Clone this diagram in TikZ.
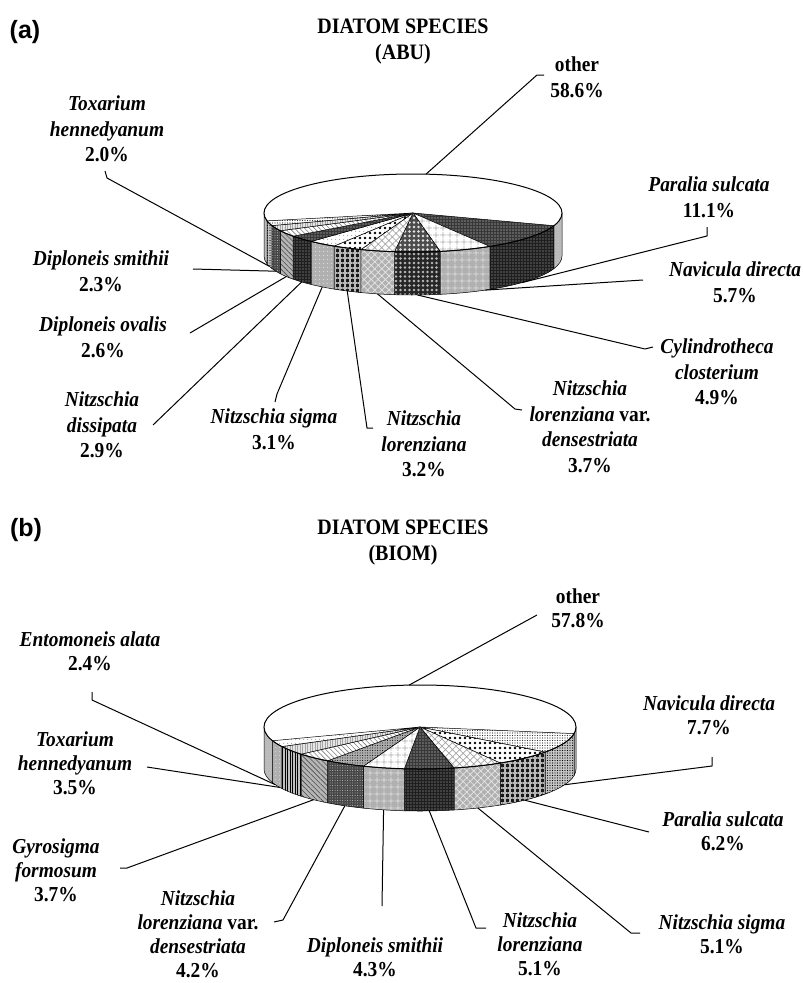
\documentclass[tikz,border=0pt]{standalone}
\usepackage{fontspec}
\setmainfont{Liberation Serif}[FakeStretch=0.91]
\newfontfamily\lsans{Liberation Sans}
\usetikzlibrary{patterns.meta,calc}
\newcommand\wallseg[6]{%
  \path[#1] (#2:#4 and #5) arc[start angle=#2, end angle=#3, x radius=#4, y radius=#5] -- ++(0,#6) arc[start angle=#3, end angle=#2, x radius=#4, y radius=#5] -- cycle;}
\newcommand\topseg[5]{%
  \path[#1] (0,0) -- (#2:#4 and #5) arc[start angle=#2, end angle=#3, x radius=#4, y radius=#5] -- cycle;}
\tikzset{
 edge/.style={draw=black, line width=0.5pt, line join=round},
 lead/.style={draw=black, line width=1pt, line join=round},
 lbl/.style={align=center, inner sep=0pt, anchor=north, font=\fontsize{21.3}{25.5}\selectfont\bfseries\itshape},
 lblb/.style={align=center, inner sep=0pt, anchor=north, font=\fontsize{21.3}{24}\selectfont\bfseries\itshape},
 ttl/.style={align=center, inner sep=0pt, anchor=north, font=\fontsize{22}{26}\selectfont\bfseries},
 tag/.style={inner sep=0pt, font=\lsans\fontsize{25}{30}\selectfont\bfseries},
 wOther/.style={edge, preaction={fill=gray!55}, pattern={Dots[distance=3pt,radius=0.5pt]}, pattern color=gray!30},
 wDarkDot/.style={edge, preaction={fill=black!88}, pattern={Dots[distance=3pt,radius=0.7pt]}, pattern color=gray!60},
 tDarkDot/.style={edge, preaction={fill=black!78}, pattern={Dots[distance=3pt,radius=0.7pt]}, pattern color=gray!30},
 wGrid/.style={edge, preaction={fill=gray!62}, pattern={Hatch[distance=6.5pt,line width=0.8pt]}, pattern color=gray!25},
 tGrid/.style={edge, preaction={fill=white}, pattern={Hatch[distance=6.5pt,line width=0.8pt]}, pattern color=gray!60},
 wCirc/.style={edge, preaction={fill=black!85}, pattern={Dots[distance=4.5pt,radius=1.3pt]}, pattern color=gray!55},
 tCirc/.style={edge, preaction={fill=black!70}, pattern={Dots[distance=4.5pt,radius=1.3pt]}, pattern color=gray!20},
 wXhatch/.style={edge, preaction={fill=gray!62}, pattern={Hatch[angle=45,distance=5pt,line width=0.7pt]}, pattern color=gray!20},
 tXhatch/.style={edge, preaction={fill=white}, pattern={Hatch[angle=45,distance=5pt,line width=0.7pt]}, pattern color=gray!70},
 wSquares/.style={edge, preaction={fill=black!90}, pattern={Hatch[distance=5pt,line width=1.6pt]}, pattern color=gray!55},
 tSquares/.style={edge, preaction={fill=white}, pattern={Dots[distance=5pt,radius=1.4pt]}, pattern color=black},
 wGreyDot/.style={edge, preaction={fill=gray!62}, pattern={Dots[distance=4pt,radius=0.7pt]}, pattern color=gray!25},
 tGreyDot/.style={edge, preaction={fill=white}, pattern={Dots[distance=4pt,radius=0.7pt]}, pattern color=gray!70},
 wDiag/.style={edge, preaction={fill=gray!58}, pattern={Lines[angle=-45,distance=3.5pt,line width=0.6pt]}, pattern color=black!70},
 tDiag/.style={edge, preaction={fill=white}, pattern={Lines[angle=-45,distance=3.5pt,line width=0.6pt]}, pattern color=gray},
 wVlines/.style={edge, preaction={fill=gray!50}, pattern={Lines[angle=90,distance=2.5pt,line width=0.6pt]}, pattern color=black},
 tVlines/.style={edge, preaction={fill=gray!20}, pattern={Lines[angle=90,distance=2.5pt,line width=0.6pt]}, pattern color=gray!70},
 wFineDot/.style={edge, preaction={fill=gray!45}, pattern={Dots[distance=2.5pt,radius=0.6pt]}, pattern color=black},
 tFineDot/.style={edge, preaction={fill=white}, pattern={Dots[distance=2.5pt,radius=0.6pt]}, pattern color=black!80},
 wMidDark/.style={edge, preaction={fill=black!72}, pattern={Dots[distance=2.5pt,radius=0.5pt]}, pattern color=gray!50},
 tMidDark/.style={edge, preaction={fill=gray!65}, pattern={Dots[distance=2.5pt,radius=0.5pt]}, pattern color=black},
}
\begin{document}
\begin{tikzpicture}[x=1pt,y=-1pt]
\useasboundingbox (0,0) rectangle (803,983);
\fill[white] (0,0) rectangle (803,983);

% ================= panel (a) =================
\node[tag] (tagA) at (25,32) {(a)};
\node[ttl] (ttlA) at (403,19) {DIATOM SPECIES\\(ABU)};
\begin{scope}[shift={(413,213)}]
 \wallseg{wOther}{0}{19}{149}{39}{43}
 \wallseg{wDarkDot}{19}{58.96}{149}{39}{43}
 \wallseg{wGrid}{58.96}{79.48}{149}{39}{43}
 \wallseg{wCirc}{79.48}{97.12}{149}{39}{43}
 \wallseg{wXhatch}{97.12}{110.44}{149}{39}{43}
 \wallseg{wSquares}{110.44}{121.96}{149}{39}{43}
 \wallseg{wGreyDot}{121.96}{133.12}{149}{39}{43}
 \wallseg{wDarkDot}{133.12}{143.56}{149}{39}{43}
 \wallseg{wDiag}{143.56}{152.92}{149}{39}{43}
 \wallseg{wMidDark}{152.92}{161.2}{149}{39}{43}
 \wallseg{wFineDot}{161.2}{168.4}{149}{39}{43}
 \wallseg{wOther}{168.4}{180}{149}{39}{43}
 \fill[white] (0,0) ellipse[x radius=149, y radius=39];
 \topseg{tDarkDot}{19}{58.96}{149}{39}
 \topseg{tGrid}{58.96}{79.48}{149}{39}
 \topseg{tCirc}{79.48}{97.12}{149}{39}
 \topseg{tXhatch}{97.12}{110.44}{149}{39}
 \topseg{tSquares}{110.44}{121.96}{149}{39}
 \topseg{tGreyDot}{121.96}{133.12}{149}{39}
 \topseg{tDarkDot}{133.12}{143.56}{149}{39}
 \topseg{tDiag}{143.56}{152.92}{149}{39}
 \topseg{tVlines}{152.92}{161.2}{149}{39}
 \topseg{tFineDot}{161.2}{168.4}{149}{39}
 \draw[line width=1pt] (0,0) ellipse[x radius=149, y radius=39];
 \coordinate (aPOth) at (-85:149 and 39);
 \coordinate (aPPar) at ([yshift=-43pt]43:149 and 39);
 \coordinate (aPNav) at ([yshift=-43pt]61:149 and 39);
 \coordinate (aPCyl) at ([yshift=-43pt]88.3:149 and 39);
 \coordinate (aPNlv) at ([yshift=-43pt]103.78:149 and 39);
 \coordinate (aPNlo) at ([yshift=-43pt]116.2:149 and 39);
 \coordinate (aPNsi) at ([yshift=-43pt]127.54:149 and 39);
 \coordinate (aPNdi) at ([yshift=-43pt]138.34:149 and 39);
 \coordinate (aPDov) at ([yshift=-43pt]148.24:149 and 39);
 \coordinate (aPDsm) at ([yshift=-43pt]157.06:149 and 39);
 \coordinate (aPTox) at ([yshift=-43pt]164.8:149 and 39);
\end{scope}

\node[lbl] (aLOth) at (577,57) {\upshape other\\\upshape 58.6\%};
\node[lbl] (aLPar) at (709,177) {Paralia sulcata\\\upshape 11.1\%};
\node[lbl] (aLNav) at (735,262) {Navicula directa\\\upshape 5.7\%};
\node[lbl] (aLCyl) at (717,339) {Cylindrotheca\\closterium\\\upshape 4.9\%};
\node[lbl] (aLNlv) at (590,381) {Nitzschia\\lorenziana \upshape var.\\densestriata\\\upshape 3.7\%};
\node[lbl] (aLNlo) at (424,411) {Nitzschia\\lorenziana\\\upshape 3.2\%};
\node[lbl] (aLNsi) at (274,409) {Nitzschia sigma\\\upshape 3.1\%};
\node[lbl] (aLNdi) at (102,392) {Nitzschia\\dissipata\\\upshape 2.9\%};
\node[lbl] (aLDov) at (103,317) {Diploneis ovalis\\\upshape 2.6\%};
\node[lbl] (aLDsm) at (101,251) {Diploneis smithii\\\upshape 2.3\%};
\node[lbl] (aLTox) at (107,96) {Toxarium\\hennedyanum\\\upshape 2.0\%};

\coordinate (aEOth) at (544,75);   \coordinate (aBOth) at (537,75);
\coordinate (aEPar) at (707,227);  \coordinate (aBPar) at (707,236);
\coordinate (aENav) at (643,280);
\coordinate (aECyl) at (653,347);  \coordinate (aBCyl) at (645,349);
\coordinate (aENlv) at (522,410);  \coordinate (aBNlv) at (515,409);
\coordinate (aENlo) at (373,428);  \coordinate (aBNlo) at (367,428);
\coordinate (aENsi) at (275,402);  \coordinate (aBNsi) at (277,394);
\coordinate (aENdi) at (153,425);
\coordinate (aEDov) at (190,333);
\coordinate (aEDsm) at (193,269);
\coordinate (aETox) at (105,171);  \coordinate (aBTox) at (107,178);

\draw[lead] (aPOth) -- (aBOth) -- (aEOth);
\draw[lead] (aPPar) -- (aBPar) -- (aEPar);
\draw[lead] (aPNav) -- (aENav);
\draw[lead] (aPCyl) -- (aBCyl) -- (aECyl);
\draw[lead] (aPNlv) -- (aBNlv) -- (aENlv);
\draw[lead] (aPNlo) -- (aBNlo) -- (aENlo);
\draw[lead] (aPNsi) -- (aBNsi) -- (aENsi);
\draw[lead] (aPNdi) -- (aENdi);
\draw[lead] (aPDov) -- (aEDov);
\draw[lead] (aPDsm) -- (aEDsm);
\draw[lead] (aPTox) -- (aBTox) -- (aETox);

% ================= panel (b) =================
\node[tag] (tagB) at (26,530) {(b)};
\node[ttl] (ttlB) at (403,520) {DIATOM SPECIES\\(BIOM)};
\begin{scope}[shift={(420,727)}]
 \wallseg{wOther}{0}{9}{156}{42}{42}
 \wallseg{wFineDot}{9}{36.72}{156}{42}{42}
 \wallseg{wSquares}{36.72}{59.04}{156}{42}{42}
 \wallseg{wXhatch}{59.04}{77.4}{156}{42}{42}
 \wallseg{wDarkDot}{77.4}{95.76}{156}{42}{42}
 \wallseg{wGrid}{95.76}{111.24}{156}{42}{42}
 \wallseg{wMidDark}{111.24}{126.36}{156}{42}{42}
 \wallseg{wDiag}{126.36}{139.68}{156}{42}{42}
 \wallseg{wVlines}{139.68}{152.28}{156}{42}{42}
 \wallseg{wGreyDot}{152.28}{160.92}{156}{42}{42}
 \wallseg{wOther}{160.92}{180}{156}{42}{42}
 \fill[white] (0,0) ellipse[x radius=156, y radius=42];
 \topseg{tFineDot}{9}{36.72}{156}{42}
 \topseg{tSquares}{36.72}{59.04}{156}{42}
 \topseg{tXhatch}{59.04}{77.4}{156}{42}
 \topseg{tDarkDot}{77.4}{95.76}{156}{42}
 \topseg{tGrid}{95.76}{111.24}{156}{42}
 \topseg{tMidDark}{111.24}{126.36}{156}{42}
 \topseg{tDiag}{126.36}{139.68}{156}{42}
 \topseg{tVlines}{139.68}{152.28}{156}{42}
 \topseg{tGreyDot}{152.28}{160.92}{156}{42}
 \draw[line width=1pt] (0,0) ellipse[x radius=156, y radius=42];
 \coordinate (bPOth) at (-94:156 and 42);
 \coordinate (bPNav) at ([yshift=-42pt]22:156 and 42);
 \coordinate (bPPar) at ([yshift=-42pt]47.88:156 and 42);
 \coordinate (bPNsi) at ([yshift=-42pt]68.22:156 and 42);
 \coordinate (bPNlo) at ([yshift=-42pt]86.58:156 and 42);
 \coordinate (bPDsm) at ([yshift=-42pt]103.5:156 and 42);
 \coordinate (bPNlv) at ([yshift=-42pt]118.8:156 and 42);
 \coordinate (bPGyr) at ([yshift=-42pt]133.02:156 and 42);
 \coordinate (bPTox) at ([yshift=-42pt]154:156 and 42);
 \coordinate (bPEnt) at ([yshift=-42pt]158:156 and 42);
\end{scope}

\node[lblb] (bLOth) at (578,589) {\upshape other\\\upshape 57.8\%};
\node[lblb] (bLNav) at (709,696) {Navicula directa\\\upshape 7.7\%};
\node[lblb] (bLPar) at (723,812) {Paralia sulcata\\\upshape 6.2\%};
\node[lblb] (bLNsi) at (722,915) {Nitzschia sigma\\\upshape 5.1\%};
\node[lblb] (bLNlo) at (540,913) {Nitzschia\\lorenziana\\\upshape 5.1\%};
\node[lblb] (bLDsm) at (375,938) {Diploneis smithii\\\upshape 4.3\%};
\node[lblb] (bLNlv) at (198,891) {Nitzschia\\lorenziana \upshape var.\\densestriata\\\upshape 4.2\%};
\node[lblb] (bLGyr) at (56,839) {Gyrosigma\\formosum\\\upshape 3.7\%};
\node[lblb] (bLTox) at (75,732) {Toxarium\\hennedyanum\\\upshape 3.5\%};
\node[lblb] (bLEnt) at (90,632) {Entomoneis alata\\\upshape 2.4\%};

\coordinate (bEOth) at (537,615);
\coordinate (bENav) at (712,757);  \coordinate (bBNav) at (712,766);
\coordinate (bEPar) at (649,832);
\coordinate (bENsi) at (640,933);  \coordinate (bBNsi) at (631,933);
\coordinate (bENlo) at (486,928);  \coordinate (bBNlo) at (476,928);
\coordinate (bEDsm) at (382,906);
\coordinate (bENlv) at (274,922);  \coordinate (bBNlv) at (283,920);
\coordinate (bEGyr) at (120,868);  \coordinate (bBGyr) at (127,868);
\coordinate (bETox) at (147,767);
\coordinate (bEEnt) at (92,692);   \coordinate (bBEnt) at (92,700);

\draw[lead] (bPOth) -- (bEOth);
\draw[lead] (bPNav) -- (bBNav) -- (bENav);
\draw[lead] (bPPar) -- (bEPar);
\draw[lead] (bPNsi) -- (bBNsi) -- (bENsi);
\draw[lead] (bPNlo) -- (bBNlo) -- (bENlo);
\draw[lead] (bPDsm) -- (bEDsm);
\draw[lead] (bPNlv) -- (bBNlv) -- (bENlv);
\draw[lead] (bPGyr) -- (bBGyr) -- (bEGyr);
\draw[lead] (bPTox) -- (bETox);
\draw[lead] (bPEnt) -- (bBEnt) -- (bEEnt);
\end{tikzpicture}
\end{document}
